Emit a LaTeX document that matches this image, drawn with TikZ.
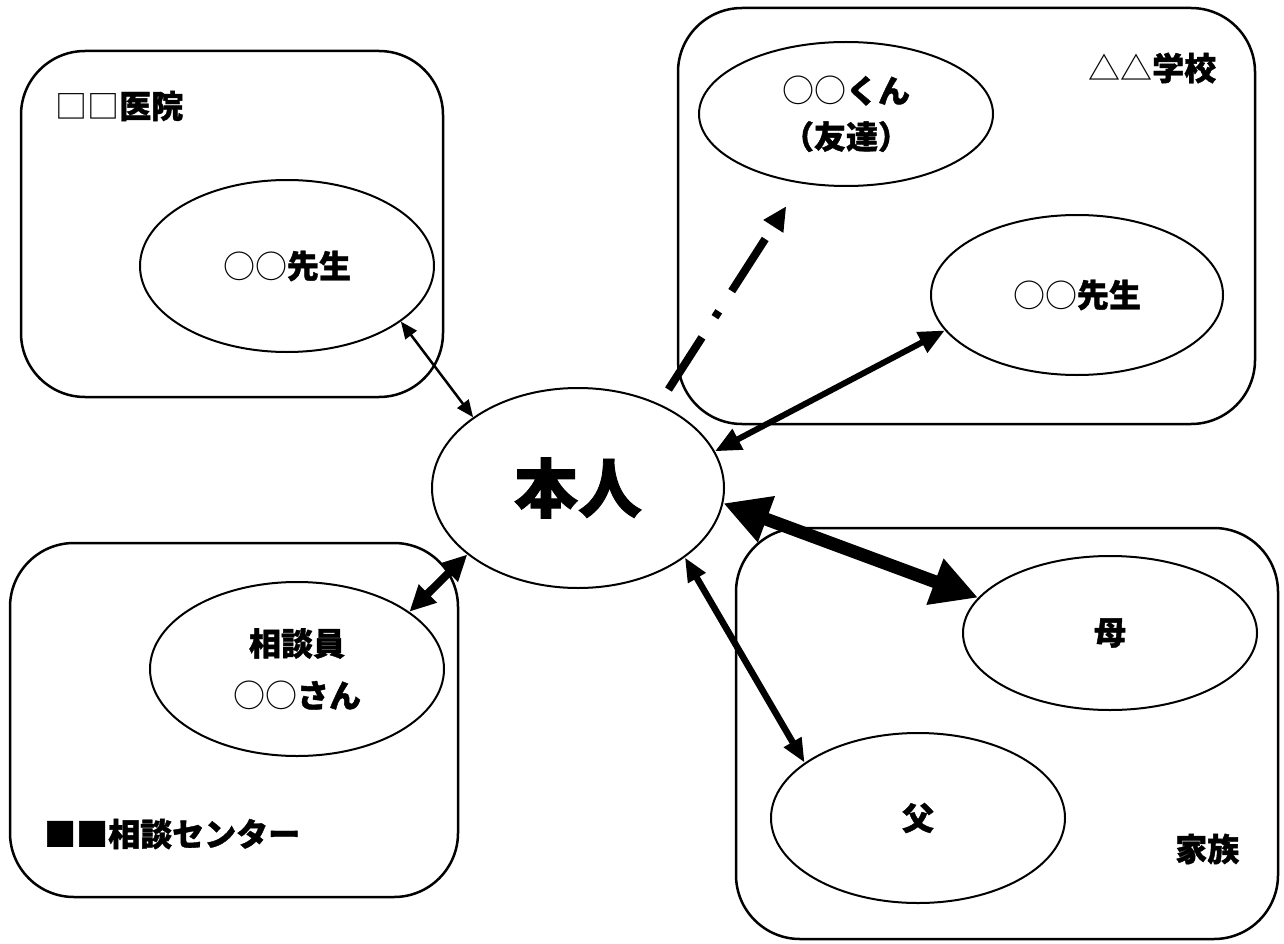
\documentclass[tikz,border=0pt]{standalone}
\usepackage{fontspec}
\newfontfamily\jp{Noto Sans CJK JP}[BoldFeatures={FakeBold=1.2}]
\usetikzlibrary{shapes.geometric,arrows.meta}
\begin{document}
\begin{tikzpicture}[x=1pt,y=-1pt,
  box/.style={draw,line width=2.5pt,rounded corners=64pt,inner sep=0pt},
  oval/.style={draw,ellipse,line width=2pt,inner sep=0pt,font=\jp\bfseries\fontsize{32}{46}\selectfont,align=center},
  lbl/.style={anchor=west,inner sep=0pt,font=\jp\bfseries\fontsize{32}{40}\selectfont},
  lk/.style={line width=#1},
]
\useasboundingbox (0,0) rectangle (1284,944);
% boxes
\node[box,minimum width=422pt,minimum height=346pt] (clinicbox) at (232,224) {};
\node[box,minimum width=577pt,minimum height=416pt] (schoolbox) at (966.5,216) {};
\node[box,minimum width=448pt,minimum height=354pt] (centerbox) at (234,720) {};
\node[box,minimum width=542pt,minimum height=411pt] (familybox) at (1007,733.5) {};
% box labels
\node[lbl] (clinicl) at (55,106) {{\mdseries □□}医院};
\node[lbl] (schooll) at (1088,68) {{\mdseries △△}学校};
\node[lbl] (centerl) at (44,834) {■■相談センター};
\node[lbl] (familyl) at (1175,849) {家族};
% ellipses
\node[oval,minimum width=294pt,minimum height=172pt] (dr) at (287,266) {{\mdseries ○○}先生};
\node[oval,minimum width=294pt,minimum height=144pt] (kun) at (846,114) {{\mdseries ○○}くん\\（友達）};
\node[oval,minimum width=292pt,minimum height=160pt] (teacher) at (1077,295) {{\mdseries ○○}先生};
\node[oval,minimum width=292pt,minimum height=200pt,font=\jp\bfseries\fontsize{64}{70}\selectfont] (hon) at (578,488) {本人};
\node[oval,minimum width=294pt,minimum height=174pt,font=\jp\bfseries\fontsize{32}{52}\selectfont] (soudan) at (297,669) {相談員\\{\mdseries ○○}さん};
\node[oval,minimum width=294pt,minimum height=154pt] (haha) at (1110,633) {母};
\node[oval,minimum width=294pt,minimum height=170pt] (chichi) at (918,818) {父};
% connectors
\draw[lk=2.5pt,{Triangle[length=17pt,width=14pt]}-{Triangle[length=17pt,width=14pt]}] (hon.146) -- (dr.-26.8);
\draw[lk=8pt,dash pattern=on 62pt off 24pt on 7pt off 24pt,shorten <=17pt,shorten >=27pt,-{Triangle[length=24pt,width=22pt]}] (hon.46.4) -- (kun.-123);
\draw[lk=6pt,{Triangle[length=26pt,width=22pt]}-{Triangle[length=26pt,width=22pt]}] (hon.15.3) -- (teacher.-165.6);
\draw[lk=13pt,{Triangle[length=46pt,width=46pt]}-{Triangle[length=46pt,width=46pt]}] (hon.-6.5) -- (haha.165);
\draw[lk=8pt,{Triangle[length=26pt,width=24pt]}-{Triangle[length=26pt,width=24pt]}] (hon.-149.6) -- (soudan.27);
\draw[lk=6.5pt,{Triangle[length=24pt,width=19pt]}-{Triangle[length=24pt,width=19pt]}] (hon.-33.2) -- (chichi.154.5);
\end{tikzpicture}
\end{document}
